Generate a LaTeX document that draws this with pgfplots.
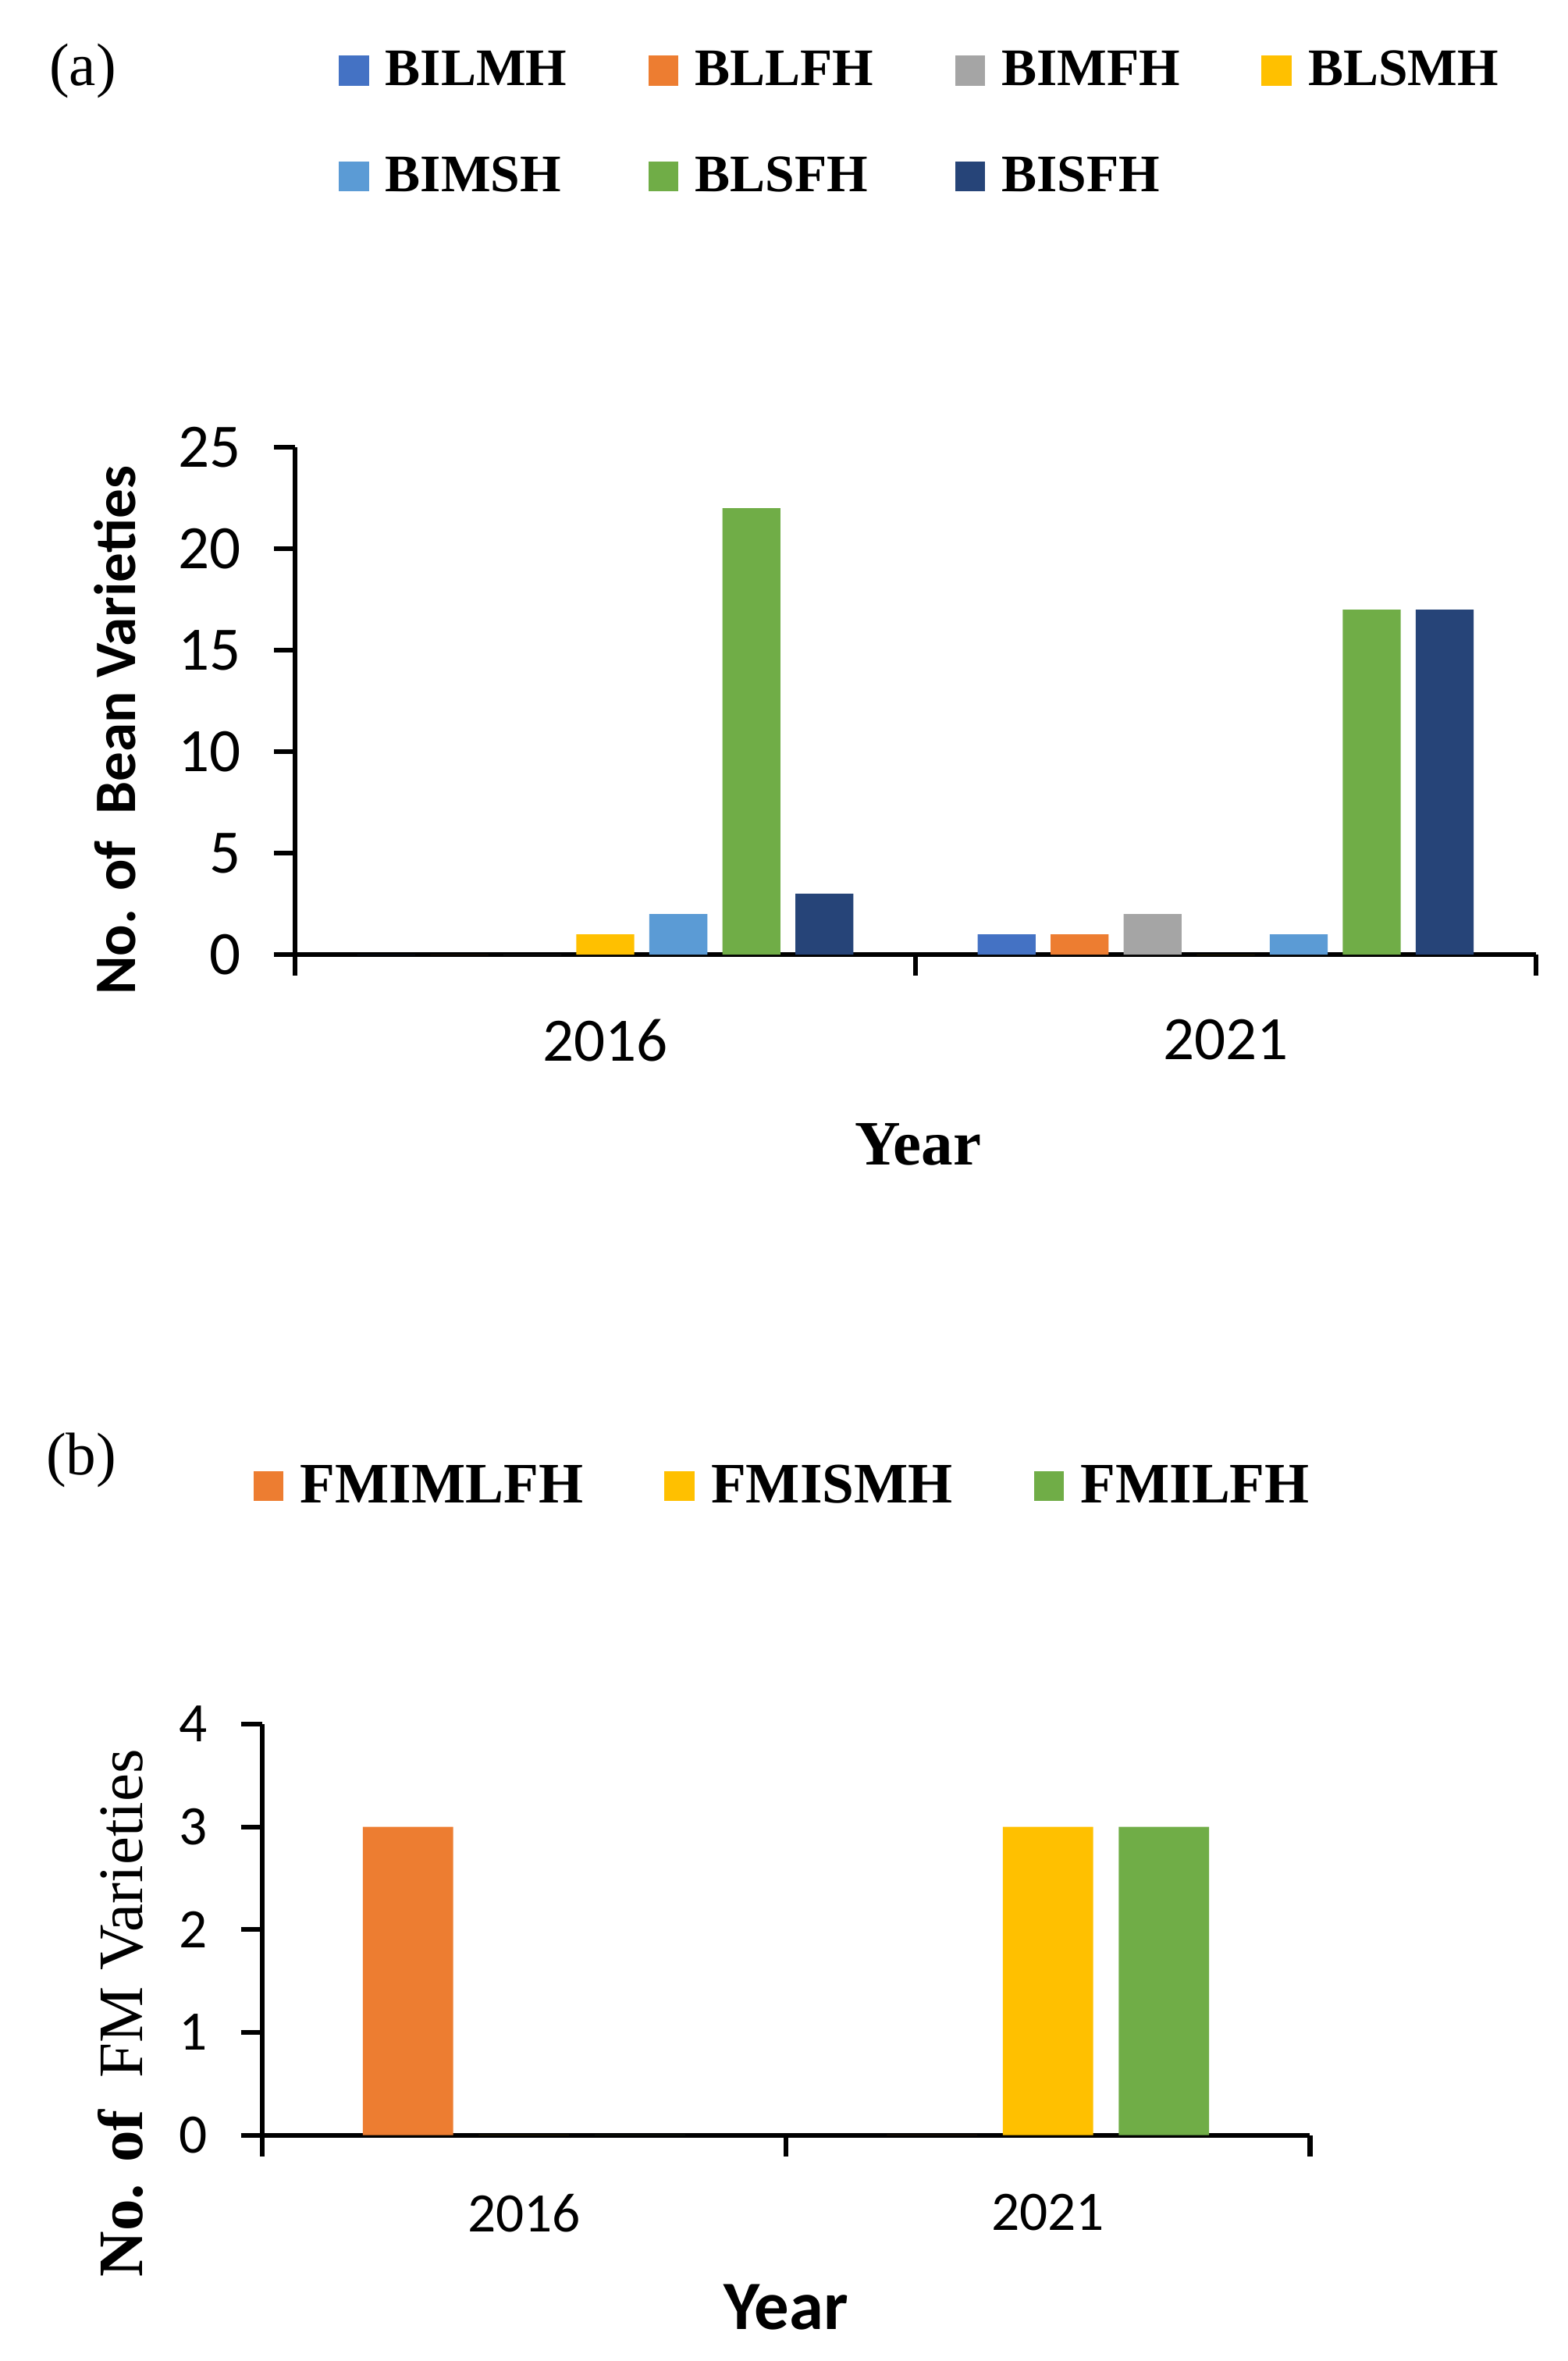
\documentclass[border=0pt]{standalone}
\usepackage{pgfplots}
\pgfplotsset{compat=1.18}
\usepackage{fontspec}
\setmainfont{Liberation Serif}
\newfontfamily\calfont{Carlito}

\definecolor{cA}{HTML}{4472C4}
\definecolor{cB}{HTML}{ED7D31}
\definecolor{cC}{HTML}{A5A5A5}
\definecolor{cD}{HTML}{FFC000}
\definecolor{cE}{HTML}{5B9BD5}
\definecolor{cF}{HTML}{70AD47}
\definecolor{cG}{HTML}{264478}

\pgfplotsset{
  sq/.style={draw=none, fill=#1,
    legend image code/.code={\fill[fill=#1] (0pt,-5pt) rectangle (10pt,5pt); \path (13.5pt,0pt);}},
  xlbar/.style={
    scale only axis,
    axis lines*=left,
    axis line style={line width=1.6pt},
    tick align=outside,
    major tick length=7pt,
    minor tick length=7pt,
    major x tick style={draw=none},
    minor x tick style={black, line width=1.6pt},
    ytick style={black, line width=1.6pt},
    xmin=-0.5, xmax=1.5, ymin=0,
    xtick={0,1}, xticklabels={2016,2021},
    minor xtick={-0.5,0.5,1.5},
    /pgf/number format/assume math mode=true,
    legend cell align=left,
    clip=false,
  }
}

\begin{document}
\begin{tikzpicture}
\path[use as bounding box] (0,0) rectangle (520.5pt,-784pt);
\node[font=\fontsize{20}{24}\selectfont] at (27.5pt,-23.5pt) {(a)};
\node[font=\fontsize{20}{24}\selectfont] at (27pt,-485pt) {(b)};

\begin{axis}[xlbar,
  at={(98pt,-317pt)}, anchor=south west,
  width=412pt, height=168.5pt,
  ymax=25, ytick={0,5,...,25},
  ybar=5pt, bar width=19.25pt,
  ticklabel style={font=\calfont\fontsize{20.5}{24}\selectfont},
  yticklabel style={xshift=-7.5pt},
  xticklabel style={yshift=-11pt},
  ylabel={No. of\ \ Bean Varieties},
  ylabel style={font=\calfont\bfseries\fontsize{19.5}{23}\selectfont,
    at={(axis description cs:-0.145,0.442)}, anchor=center},
  xlabel={Year},
  xlabel style={font=\bfseries\fontsize{21}{25}\selectfont,
    at={(axis description cs:0.502,-0.374)}, anchor=center},
  legend columns=4,
  legend style={at={(0.505,1.638)}, anchor=center, draw=none,
    font=\bfseries\fontsize{17.5}{21}\selectfont, row sep=18pt,
    /tikz/every even column/.append style={column sep=25pt}},
]
\addplot[sq=cA] coordinates {(0,0) (1,1)};
\addplot[sq=cB] coordinates {(0,0) (1,1)};
\addplot[sq=cC] coordinates {(0,0) (1,2)};
\addplot[sq=cD] coordinates {(0,1) (1,0)};
\addplot[sq=cE] coordinates {(0,2) (1,1)};
\addplot[sq=cF] coordinates {(0,22) (1,17)};
\addplot[sq=cG] coordinates {(0,3) (1,17)};
\legend{BILMH, BLLFH, BIMFH, BLSMH, BIMSH, BLSFH, BISFH}
\end{axis}

\begin{axis}[xlbar,
  at={(87pt,-709pt)}, anchor=south west,
  width=348pt, height=136.5pt,
  ymax=4, ytick={0,1,...,4},
  ybar=8.5pt, bar width=30pt,
  ticklabel style={font=\calfont\fontsize{18.5}{22}\selectfont},
  yticklabel style={xshift=-7.5pt},
  xticklabel style={yshift=-9pt},
  ylabel={\textbf{No. of}\ \ FM Varieties},
  ylabel style={font=\fontsize{21}{25}\selectfont,
    at={(axis description cs:-0.135,0.297)}, anchor=center},
  xlabel={Year},
  xlabel style={font=\calfont\bfseries\fontsize{23}{27}\selectfont,
    at={(axis description cs:0.5,-0.418)}, anchor=center},
  legend columns=3,
  legend style={at={(0.4986,1.579)}, anchor=center, draw=none,
    font=\bfseries\fontsize{19}{23}\selectfont,
    /tikz/every even column/.append style={column sep=25pt}},
]
\addplot[sq=cB] coordinates {(0,3) (1,0)};
\addplot[sq=cD] coordinates {(0,0) (1,3)};
\addplot[sq=cF] coordinates {(0,0) (1,3)};
\legend{FMIMLFH, FMISMH, FMILFH}
\end{axis}
\end{tikzpicture}
\end{document}
